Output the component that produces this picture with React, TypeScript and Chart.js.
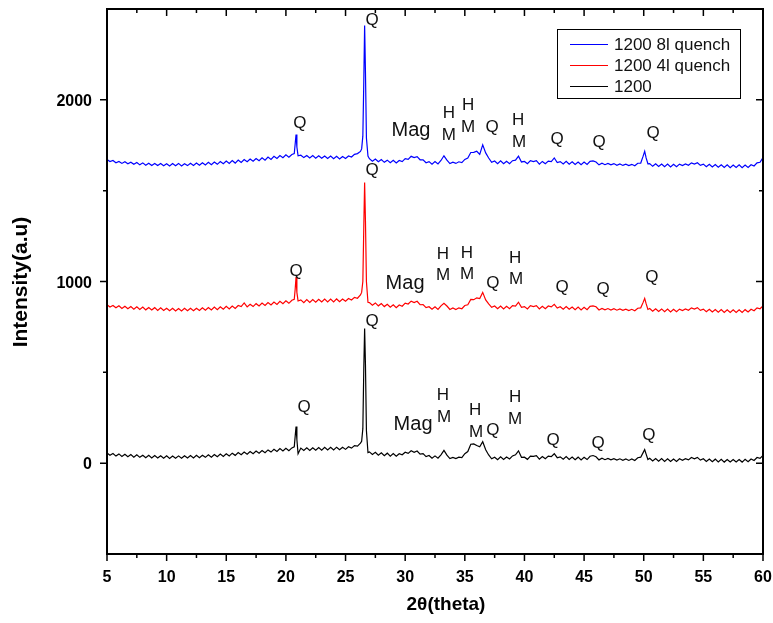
import React, { useEffect, useRef } from "react";
import { Chart, registerables } from "chart.js";

Chart.register(...registerables);

// 2θ positions (degrees)
const twoTheta = [
  5, 5.25, 5.5, 5.75, 6, 6.25, 6.5, 6.75, 7, 7.25,
  7.5, 7.75, 8, 8.25, 8.5, 8.75, 9, 9.25, 9.5, 9.75,
  10, 10.25, 10.5, 10.75, 11, 11.25, 11.5, 11.75, 12, 12.25,
  12.5, 12.75, 13, 13.25, 13.5, 13.75, 14, 14.25, 14.5, 14.75,
  15, 15.25, 15.5, 15.75, 16, 16.25, 16.5, 16.75, 17, 17.25,
  17.5, 17.75, 18, 18.25, 18.5, 18.75, 19, 19.25, 19.5, 19.75,
  20, 20.25, 20.5,
  20.7, 20.78, 20.85, 20.92, 21.02,
  21.25, 21.5, 21.75, 22, 22.25, 22.5, 22.75, 23, 23.25, 23.5,
  23.75, 24, 24.25, 24.5, 24.75, 25, 25.25, 25.5, 25.75, 26,
  26.25, 26.35, 26.45, 26.53, 26.6, 26.67, 26.75, 26.88,
  27, 27.25, 27.5, 27.75, 28, 28.25, 28.5, 28.75, 29, 29.25,
  29.5, 29.75, 30, 30.25, 30.5, 30.75, 31, 31.25, 31.5, 31.75,
  32, 32.25, 32.5, 32.75, 33, 33.25, 33.5, 33.75, 34, 34.25,
  34.5, 34.75, 35, 35.25, 35.5, 35.75, 36, 36.25, 36.5, 36.75,
  37, 37.25, 37.5, 37.75, 38, 38.25, 38.5, 38.75, 39, 39.25,
  39.5, 39.75, 40, 40.25, 40.5, 40.75, 41, 41.25, 41.5, 41.75,
  42, 42.25, 42.5, 42.75, 43, 43.25, 43.5, 43.75, 44, 44.25,
  44.5, 44.75, 45, 45.25, 45.5, 45.75, 46, 46.25, 46.5, 46.75,
  47, 47.25, 47.5, 47.75, 48, 48.25, 48.5, 48.75, 49, 49.25,
  49.5, 49.75, 49.95, 50.08, 50.2, 50.35,
  50.5, 50.75, 51, 51.25, 51.5, 51.75, 52, 52.25, 52.5, 52.75,
  53, 53.25, 53.5, 53.75, 54, 54.25, 54.5, 54.75, 55, 55.25,
  55.5, 55.75, 56, 56.25, 56.5, 56.75, 57, 57.25, 57.5, 57.75,
  58, 58.25, 58.5, 58.75, 59, 59.25, 59.5, 59.75, 60,
];

const quench8l = [
  1672, 1660, 1666, 1654, 1661, 1650, 1659, 1648, 1657, 1645,
  1655, 1642, 1653, 1640, 1651, 1639, 1650, 1638, 1649, 1637,
  1648, 1636, 1649, 1637, 1650, 1636, 1648, 1638, 1651, 1639,
  1652, 1640, 1654, 1642, 1656, 1643, 1658, 1645, 1660, 1648,
  1663, 1650, 1666, 1652, 1669, 1655, 1671, 1659, 1674, 1662,
  1677, 1665, 1681, 1668, 1685, 1672, 1689, 1677, 1693, 1681,
  1697, 1684, 1699,
  1704, 1760, 1809, 1740, 1692,
  1695, 1682, 1694, 1680, 1693, 1679, 1692, 1678, 1691, 1677,
  1690, 1676, 1689, 1675, 1688, 1677, 1691, 1685, 1700, 1704,
  1716, 1730, 1800, 2100, 2409, 2150, 1790, 1690,
  1676, 1662, 1674, 1659, 1671, 1656, 1668, 1654, 1667, 1652,
  1666, 1660, 1676, 1672, 1689, 1682, 1687, 1670, 1670, 1654,
  1660, 1646, 1660, 1647, 1666, 1692, 1668, 1649, 1657, 1650,
  1659, 1654, 1672, 1680, 1710, 1711, 1717, 1700, 1752, 1708,
  1680, 1656, 1663, 1649, 1664, 1648, 1662, 1649, 1665, 1668,
  1690, 1658, 1661, 1648, 1665, 1660, 1665, 1646, 1661, 1648,
  1663, 1660, 1680, 1655, 1660, 1647, 1661, 1646, 1659, 1644,
  1658, 1643, 1657, 1644, 1661, 1664, 1658, 1642, 1651, 1643,
  1650, 1642, 1649, 1640, 1647, 1639, 1646, 1638, 1645, 1637,
  1651, 1652, 1690, 1717, 1680, 1648,
  1649, 1634, 1648, 1633, 1647, 1632, 1646, 1631, 1645, 1632,
  1646, 1638, 1647, 1640, 1653, 1646, 1654, 1639, 1646, 1632,
  1645, 1630, 1644, 1629, 1643, 1628, 1642, 1627, 1641, 1628,
  1642, 1627, 1641, 1628, 1643, 1636, 1653, 1656, 1682,
];

const quench4l = [
  872, 860, 868, 855, 866, 852, 864, 850, 862, 848,
  861, 846, 859, 844, 857, 843, 856, 841, 855, 840,
  853, 839, 852, 838, 851, 838, 852, 839, 852, 839,
  853, 840, 855, 842, 857, 843, 859, 845, 861, 847,
  863, 849, 865, 852, 868, 862, 882, 860, 875, 862,
  878, 865, 881, 868, 884, 871, 887, 874, 891, 878,
  894, 880, 897,
  902, 960, 1024, 940, 893,
  899, 884, 900, 885, 901, 886, 902, 887, 903, 888,
  903, 888, 904, 889, 904, 891, 906, 898, 913, 908,
  926, 940, 1000, 1300, 1545, 1330, 1000, 886,
  884, 870, 882, 866, 879, 862, 875, 859, 872, 856,
  871, 864, 881, 876, 892, 884, 891, 872, 873, 856,
  861, 847, 861, 846, 866, 880, 865, 846, 854, 846,
  855, 850, 868, 872, 901, 900, 910, 906, 940, 899,
  877, 858, 865, 850, 865, 849, 863, 850, 867, 864,
  886, 858, 862, 849, 867, 862, 867, 849, 863, 850,
  865, 860, 874, 854, 861, 848, 862, 847, 860, 845,
  859, 844, 858, 845, 863, 866, 861, 843, 852, 844,
  851, 843, 850, 842, 849, 841, 848, 840, 847, 839,
  853, 855, 885, 907, 878, 846,
  851, 836, 850, 835, 849, 834, 848, 833, 847, 834,
  848, 840, 849, 842, 855, 848, 856, 841, 848, 834,
  847, 832, 846, 831, 845, 830, 844, 830, 844, 830,
  844, 830, 845, 832, 847, 839, 855, 850, 866,
];

const plain1200 = [
  56, 44, 53, 39, 51, 37, 49, 35, 47, 33,
  46, 32, 44, 30, 43, 29, 42, 28, 41, 27,
  40, 26, 39, 27, 40, 27, 41, 28, 42, 29,
  43, 30, 44, 32, 46, 33, 48, 35, 50, 37,
  52, 40, 55, 43, 58, 46, 61, 49, 64, 52,
  67, 55, 70, 58, 73, 61, 76, 64, 80, 67,
  82, 69, 84,
  90, 150, 202, 130, 52,
  83, 70, 84, 70, 85, 71, 86, 72, 87, 73,
  87, 73, 88, 74, 88, 76, 90, 83, 97, 94,
  110, 120, 190, 520, 741, 540, 180, 58,
  62, 48, 60, 44, 57, 41, 55, 39, 53, 38,
  52, 46, 60, 54, 68, 60, 67, 50, 53, 36,
  42, 27, 40, 27, 46, 70, 44, 25, 32, 25,
  33, 31, 52, 64, 104, 106, 97, 90, 118, 74,
  45, 24, 33, 19, 35, 20, 34, 23, 40, 46,
  68, 32, 33, 21, 39, 37, 41, 22, 37, 24,
  39, 36, 52, 30, 35, 22, 36, 21, 34, 19,
  33, 18, 32, 20, 38, 42, 35, 18, 27, 19,
  26, 18, 25, 17, 24, 16, 23, 15, 23, 15,
  30, 33, 58, 75, 50, 20,
  27, 12, 26, 11, 25, 10, 24, 9, 23, 10,
  24, 16, 25, 18, 31, 24, 32, 17, 24, 10,
  23, 8, 22, 7, 21, 6, 20, 6, 20, 6,
  20, 6, 21, 8, 23, 15, 31, 26, 42,
];

const seriesNames = ["1200 8l quench", "1200 4l quench", "1200"];
const seriesColors = ["#0000ff", "#ff0000", "#000000"];

const xMajorTicks = [5, 10, 15, 20, 25, 30, 35, 40, 45, 50, 55, 60];
const xMinorTicks = [7.5, 12.5, 17.5, 22.5, 27.5, 32.5, 37.5, 42.5, 47.5, 52.5, 57.5];
const yMajorTicks = [0, 1000, 2000];
const yMinorTicks = [500, 1500];
const xTitle = "2θ(theta)";
const yTitle = "Intensity(a.u)";

// phase labels: [text, 2θ, intensity]
const marks8l: [string, number, number][] = [
  ["Q", 21.18, 1870], ["Q", 27.22, 2436], ["Mag", 30.49, 1831],
  ["H", 33.67, 1924], ["M", 33.67, 1803], ["H", 35.27, 1968], ["M", 35.27, 1847],
  ["Q", 37.28, 1847], ["H", 39.46, 1886], ["M", 39.54, 1765],
  ["Q", 42.73, 1781], ["Q", 46.25, 1765], ["Q", 50.78, 1815],
];
const marks4l: [string, number, number][] = [
  ["Q", 20.85, 1055], ["Q", 27.22, 1610], ["Mag", 29.99, 989],
  ["H", 33.17, 1149], ["M", 33.17, 1033], ["H", 35.18, 1155], ["M", 35.18, 1040],
  ["Q", 37.36, 989], ["H", 39.21, 1127], ["M", 39.29, 1011],
  ["Q", 43.15, 967], ["Q", 46.59, 956], ["Q", 50.69, 1022],
];
const marks1200: [string, number, number][] = [
  ["Q", 21.52, 307], ["Q", 27.22, 780], ["Mag", 30.66, 213],
  ["H", 33.17, 373], ["M", 33.26, 252], ["H", 35.86, 290], ["M", 35.94, 169],
  ["Q", 37.36, 180], ["H", 39.21, 362], ["M", 39.21, 241],
  ["Q", 42.4, 125], ["Q", 46.17, 108], ["Q", 50.44, 152],
];

const FONT = 'Arial, "Liberation Sans", sans-serif';

const overlay = {
  id: "overlay",
  afterDraw(chart: any) {
    const { ctx, chartArea: a, scales } = chart;
    const xs = scales.x;
    const ys = scales.y;
    ctx.save();
    ctx.strokeStyle = "#000";
    ctx.lineWidth = 2;
    ctx.strokeRect(a.left, a.top, a.right - a.left, a.bottom - a.top);

    ctx.lineWidth = 1.5;
    const major = 7;
    const minor = 4;
    ctx.beginPath();
    const xt = (v: number, len: number) => {
      const p = xs.getPixelForValue(v);
      ctx.moveTo(p, a.bottom);
      ctx.lineTo(p, a.bottom + len);
      ctx.moveTo(p, a.top);
      ctx.lineTo(p, a.top + len);
    };
    const yt = (v: number, len: number) => {
      const p = ys.getPixelForValue(v);
      ctx.moveTo(a.left, p);
      ctx.lineTo(a.left - len, p);
      ctx.moveTo(a.right, p);
      ctx.lineTo(a.right - len, p);
    };
    xMajorTicks.forEach((v) => xt(v, major));
    xMinorTicks.forEach((v) => xt(v, minor));
    yMajorTicks.forEach((v) => yt(v, major));
    yMinorTicks.forEach((v) => yt(v, minor));
    ctx.stroke();

    // tick labels
    ctx.fillStyle = "#000";
    ctx.font = `bold 16px ${FONT}`;
    ctx.textBaseline = "alphabetic";
    ctx.textAlign = "center";
    xMajorTicks.forEach((v) => ctx.fillText(String(v), xs.getPixelForValue(v), a.bottom + 28));
    ctx.textAlign = "right";
    yMajorTicks.forEach((v) => ctx.fillText(String(v), a.left - 15, ys.getPixelForValue(v) + 6));

    // phase labels
    ctx.fillStyle = "#111";
    ctx.textAlign = "center";
    ctx.textBaseline = "middle";
    [marks8l, marks4l, marks1200].forEach((list) => {
      list.forEach(([t, x, y]) => {
        ctx.font = t === "Mag" ? `20px ${FONT}` : `17px ${FONT}`;
        ctx.fillText(t, xs.getPixelForValue(x), ys.getPixelForValue(y));
      });
    });

    // legend
    ctx.fillStyle = "#fff";
    ctx.fillRect(557, 29, 183, 69);
    ctx.strokeStyle = "#000";
    ctx.lineWidth = 1;
    ctx.strokeRect(557.5, 29.5, 183, 69);
    ctx.font = `17px ${FONT}`;
    ctx.textAlign = "left";
    ctx.textBaseline = "middle";
    seriesNames.forEach((name, i) => {
      const y = 44 + i * 21;
      ctx.strokeStyle = seriesColors[i];
      ctx.lineWidth = 1.2;
      ctx.beginPath();
      ctx.moveTo(570, y + 0.5);
      ctx.lineTo(608, y + 0.5);
      ctx.stroke();
      ctx.fillStyle = "#111";
      ctx.fillText(name, 614, y + 1);
    });

    // axis titles
    ctx.fillStyle = "#000";
    ctx.font = `bold 19px ${FONT}`;
    ctx.textAlign = "center";
    ctx.textBaseline = "middle";
    ctx.fillText(xTitle, 446, 605);
    ctx.font = `bold 21px ${FONT}`;
    ctx.translate(21, 282);
    ctx.rotate(-Math.PI / 2);
    ctx.fillText(yTitle, 0, 0);
    ctx.restore();
  },
};

export default function App() {
  const ref = useRef<HTMLCanvasElement | null>(null);
  useEffect(() => {
    if (!ref.current) return;
    const mk = (ys: number[]) => twoTheta.map((x, i) => ({ x, y: ys[i] }));
    const chart = new Chart(ref.current, {
      type: "line",
      data: {
        datasets: [quench8l, quench4l, plain1200].map((d, i) => ({
          label: seriesNames[i],
          data: mk(d),
          borderColor: seriesColors[i],
          backgroundColor: seriesColors[i],
          borderWidth: 1.2,
          pointRadius: 0,
          tension: 0,
          fill: false,
        })),
      },
      options: {
        animation: false,
        responsive: false,
        devicePixelRatio: 1,
        events: [],
        layout: { padding: { left: 0, right: 10, top: 9, bottom: 0 } },
        plugins: { legend: { display: false }, tooltip: { enabled: false }, title: { display: false } },
        scales: {
          x: {
            type: "linear",
            min: 5,
            max: 60,
            grid: { display: false, drawTicks: false },
            border: { display: false },
            ticks: { display: false },
            afterFit: (s: any) => {
              s.height = 69;
            },
          },
          y: {
            type: "linear",
            min: -500,
            max: 2500,
            grid: { display: false, drawTicks: false },
            border: { display: false },
            ticks: { display: false },
            afterFit: (s: any) => {
              s.width = 107;
            },
          },
        },
      },
      plugins: [overlay],
    });
    return () => chart.destroy();
  }, []);
  return (
    <div style={{ position: "fixed", left: 0, top: 0, width: 773, height: 623, background: "#fff" }}>
      <canvas ref={ref} width={773} height={623} style={{ display: "block" }} />
    </div>
  );
}
